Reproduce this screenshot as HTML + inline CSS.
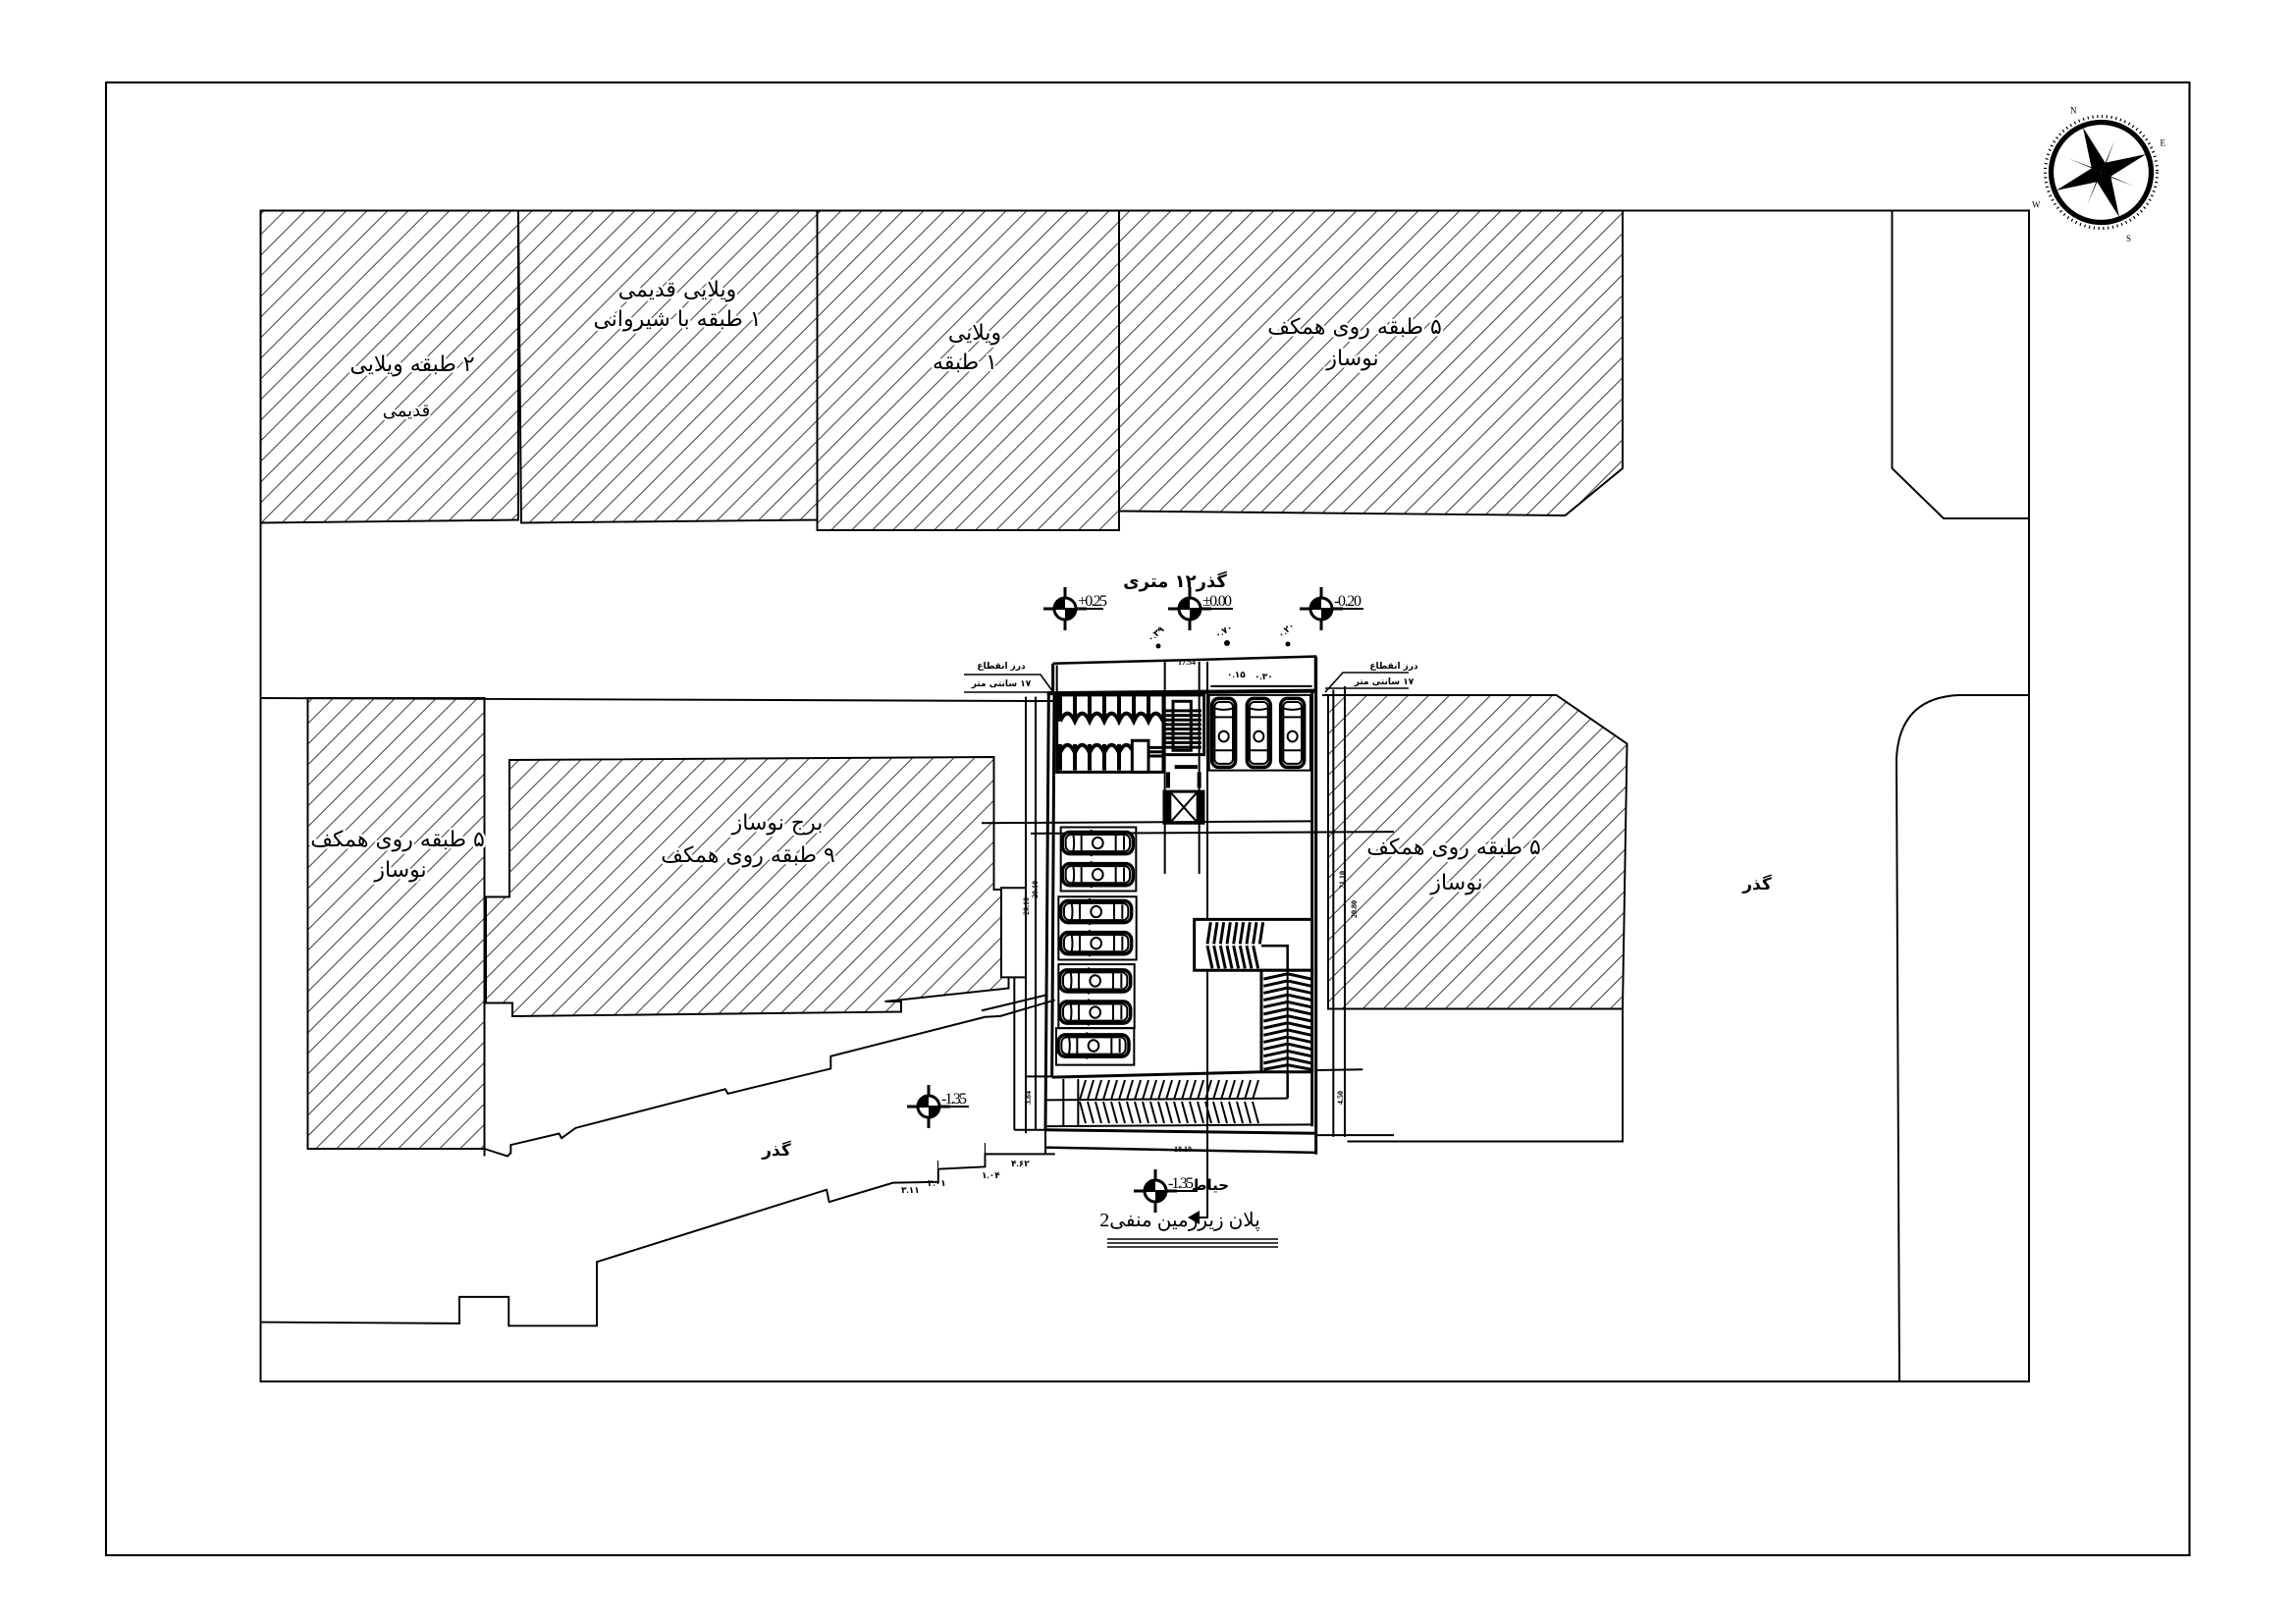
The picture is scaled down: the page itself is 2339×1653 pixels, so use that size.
<!DOCTYPE html>
<html><head><meta charset="utf-8"><style>
html,body{margin:0;padding:0;background:#fff}
svg{display:block}
text{font-family:"Liberation Serif","DejaVu Sans",sans-serif;fill:#000}
.t{font-family:"DejaVu Sans","Noto Sans CJK SC",sans-serif;paint-order:stroke;stroke:#fff;stroke-width:5px;stroke-linejoin:round}
.b{font-weight:bold;font-family:"DejaVu Sans",sans-serif}
</style></head><body>
<svg width="2339" height="1653" viewBox="0 0 2339 1653" xmlns="http://www.w3.org/2000/svg">
<defs>
<pattern id="h" patternUnits="userSpaceOnUse" width="9.9" height="9.9" patternTransform="rotate(45)">
<line x1="0" y1="0" x2="0" y2="9.9" stroke="#000" stroke-width="1"/>
</pattern>
<g id="car">
<rect x="-108" y="-31" width="216" height="62" rx="22" fill="#fff" stroke="#000" stroke-width="3.5" vector-effect="non-scaling-stroke"/>
<rect x="-98" y="-24" width="196" height="48" rx="16" fill="none" stroke="#000" stroke-width="2" vector-effect="non-scaling-stroke"/>
<path d="M-50,-24 L-50,24 M55,-24 L55,24 M-75,-24 Q-70,0 -75,24 M80,-20 L80,20 M-20,-31 L-20,-38 M-20,31 L-20,38" stroke="#000" stroke-width="2" fill="none" vector-effect="non-scaling-stroke"/>
<ellipse cx="0" cy="0" rx="16" ry="16" fill="#fff" stroke="#000" stroke-width="2" vector-effect="non-scaling-stroke"/>
</g>
<g id="vcar">
<rect x="-36" y="-98" width="72" height="196" rx="20" fill="#fff" stroke="#000" stroke-width="3.5" vector-effect="non-scaling-stroke"/>
<rect x="-28" y="-88" width="56" height="176" rx="14" fill="none" stroke="#000" stroke-width="2" vector-effect="non-scaling-stroke"/>
<path d="M-28,-45 L28,-45 M-28,50 L28,50 M-28,-70 Q0,-62 28,-70" stroke="#000" stroke-width="2" fill="none" vector-effect="non-scaling-stroke"/>
<ellipse cx="0" cy="10" rx="15" ry="15" fill="#fff" stroke="#000" stroke-width="2" vector-effect="non-scaling-stroke"/>
</g>
<g id="elev">
<line x1="-22" y1="0" x2="22" y2="0" stroke="#000" stroke-width="3"/>
<line x1="0" y1="-22" x2="0" y2="22" stroke="#000" stroke-width="3"/>
<circle r="11" fill="#fff" stroke="#000" stroke-width="3"/>
<path d="M0,0 L0,-11 A11,11 0 0 0 -11,0 Z M0,0 L0,11 A11,11 0 0 0 11,0 Z" fill="#000"/>
</g>
</defs>

<g transform="scale(1.5)" stroke="#000" fill="none" stroke-width="1.3">
<rect x="72" y="56" width="1415" height="1000" stroke-width="1.4"/>
<rect x="177" y="143" width="1201" height="795" stroke-width="1.3"/>

<polygon points="177,143 352,143 352,353 177,355" fill="url(#h)"/>
<polygon points="352,143 555,143 555,353 354,355" fill="url(#h)"/>
<polygon points="555,143 760,143 760,360 555,360" fill="url(#h)"/>
<polygon points="760,143 1102,143 1102,318 1063,350 760,347" fill="url(#h)"/>

<polyline points="1285,143 1285,318 1320,352 1378,352"/>
<path d="M1378,472 L1330,472 Q1290,474 1288,515 L1290,938"/>

<polyline points="177,474 700,476 715,476"/>
<polyline points="898,472 1057,472"/>

<polygon points="902,472 1057,472 1105,505 1102,685 902,685" fill="url(#h)"/>
<polyline points="915,685 1102,685 1102,775 915,775"/>

<rect x="209" y="474" width="120" height="306" fill="url(#h)"/>
<line x1="329" y1="474" x2="329" y2="785"/>
<polygon points="346,516 675,514 675,604 685,604 685,671 601,680 612,680 612,687 348,690 348,681 330,681 330,609 346,609" fill="url(#h)"/>

<polyline points="329,780 344.6,785 346.9,782.9 346.9,777.4 379.7,769.7 381.4,772.8 390.9,765.9 492.6,739.5 494.3,742.6 564.2,725.6 564.2,717.2 669,690.5 679.5,689.9 716.5,679"/>
<polyline points="177,897.7 312,898.6 312,880.6 345.5,880.6 345.5,900.2 405.4,900.2 405.4,856.8 561.4,807.8 563.1,816.1 606.5,803.1 637.2,802.5 637.2,793.8 669,792.2 669,783.6 716.5,783.6"/>
<path d="M669,783.6 L669,776 M637,793 L637,788" stroke-width="0.8"/>

<g transform="translate(1427,117)">
<circle r="34" stroke-width="3.5"/>
<circle r="38" stroke-width="2" stroke-dasharray="0.8,2.4"/>
<g transform="rotate(-22)" fill="#000" stroke="none">
<polygon points="0,-33 5,-5 0,0 -5,-5"/>
<polygon points="0,33 5,5 0,0 -5,5"/>
<polygon points="-33,0 -5,5 0,0 -5,-5"/>
<polygon points="33,0 5,5 0,0 5,-5"/>
<polygon points="0,0 17,-17 4,-3" /><polygon points="0,0 -17,17 -4,3"/>
<polygon points="0,0 -17,-17 -3,-4"/><polygon points="0,0 17,17 3,4"/>
</g>
<g stroke="none" fill="#000" font-size="6" font-family="Liberation Sans">
<text x="-21" y="-40">N</text><text x="40" y="-18">E</text><text x="17" y="47">S</text><text x="-47" y="24">W</text>
</g>
</g>
</g>

<g font-size="22" text-anchor="middle" direction="rtl">
<text class="t" x="420" y="378">۲ طبقه ویلایی</text>
<text class="t" x="414" y="424" font-size="18">قدیمی</text>
<text class="t" x="690" y="302">ویلایی قدیمی</text>
<text class="t" x="690" y="332">۱ طبقه با شیروانی</text>
<text class="t" x="993" y="346">ویلایی</text>
<text class="t" x="983" y="376">۱ طبقه</text>
<text class="t" x="1380" y="340">۵ طبقه روی همکف</text>
<text class="t" x="1378" y="372">نوساز</text>
<text class="t" x="792" y="845">برج نوساز</text>
<text class="t" x="762" y="878">۹ طبقه روی همکف</text>
<text class="t" x="405" y="862">۵ طبقه روی همکف</text>
<text class="t" x="408" y="893">نوساز</text>
<text class="t" x="1481" y="870">۵ طبقه روی همکف</text>
<text class="t" x="1484" y="906">نوساز</text>
</g>
<g text-anchor="middle" direction="rtl">
<text x="1790" y="906" font-size="17" class="b">گذر</text>
<text x="791" y="1177" font-size="17" class="b">گذر</text>
<text x="1197" y="598" font-size="18" class="b">گذر۱۲ متری</text>
<text x="1233" y="1212" font-size="15" class="b">حیاط</text>
<text x="1020" y="681" font-size="9" class="b">درز انقطاع</text>
<text x="1020" y="699" font-size="9" class="b">۱۷ سانتی متر</text>
<text x="1420" y="681" font-size="9" class="b">درز انقطاع</text>
<text x="1410" y="697" font-size="9" class="b">۱۷ سانتی متر</text>
<text x="1037" y="947" font-size="10" class="b" transform="rotate(-90 1037 947)">پله فرار</text>
</g>

<g>
<use href="#elev" x="1085" y="620"/><line x1="1075" y1="620" x2="1124" y2="620" stroke="#000" stroke-width="2"/><text x="1098" y="617" font-family="Liberation Sans" font-size="16" textLength="30">+0.25</text>
<use href="#elev" x="1212" y="620"/><line x1="1200" y1="620" x2="1256" y2="620" stroke="#000" stroke-width="2"/><text x="1225" y="617" font-family="Liberation Sans" font-size="16" textLength="30">±0.00</text>
<use href="#elev" x="1346" y="620"/><line x1="1335" y1="620" x2="1389" y2="620" stroke="#000" stroke-width="2"/><text x="1359" y="617" font-family="Liberation Sans" font-size="16" textLength="28">-0.20</text>
<use href="#elev" x="946" y="1127"/><line x1="935" y1="1127" x2="987" y2="1127" stroke="#000" stroke-width="2"/><text x="959" y="1124" font-family="Liberation Sans" font-size="16" textLength="26">-1.35</text>
<use href="#elev" x="1177" y="1213"/><line x1="1165" y1="1213" x2="1220" y2="1213" stroke="#000" stroke-width="2"/><text x="1190" y="1210" font-family="Liberation Sans" font-size="16" textLength="26">-1.35</text>
</g>
<g font-size="9" font-weight="bold" font-family="DejaVu Sans,sans-serif">
<text x="1172" y="654" transform="rotate(-40 1172 654)">۰.۳۹</text><circle cx="1180" cy="658" r="2.5"/>
<text x="1240" y="650" transform="rotate(-30 1240 650)">۰.۷۰</text><circle cx="1250" cy="655" r="3"/>
<text x="1305" y="650" transform="rotate(-40 1305 650)">۰.۲۰</text><circle cx="1312" cy="656" r="2.5"/>
<text x="1250" y="690">۰.۱۵</text><text x="1278" y="692">۰.۳۰</text>
<text x="1030" y="1188">۴.۶۲</text>
<text x="1000" y="1200">۱.۰۴</text>
<text x="945" y="1208">۳.۰۱</text>
<text x="918" y="1215">۳.۱۱</text>
</g>

<text x="1202" y="1249" font-size="20" text-anchor="middle" direction="rtl" font-family="DejaVu Sans,sans-serif">پلان زیرزمین منفی2</text>
<g stroke="#000" stroke-width="1.6"><line x1="1128" y1="1262" x2="1302" y2="1262"/><line x1="1128" y1="1266" x2="1302" y2="1266"/><line x1="1128" y1="1270" x2="1302" y2="1270"/></g>
<polyline points="1230,1183 1230,1240 1215,1240" fill="none" stroke="#000" stroke-width="2"/>
<polygon points="1210,1240 1222,1233 1222,1247" fill="#000"/>

<g stroke="#000" stroke-width="1.6" fill="none">
<polyline points="982,687 1060,687 1073,705"/>
<line x1="982" y1="705" x2="1073" y2="705"/>
<polyline points="1435,685 1368,685 1350,705"/>
<line x1="1350" y1="701" x2="1435" y2="701"/>
</g>

<g transform="translate(1000,640) scale(0.33333,0.35714)" stroke="#000" fill="none" stroke-width="2" >
<polyline points="218,100 640,90 1020,80 1020,180" vector-effect="non-scaling-stroke" stroke-width="2.5"/>
<line x1="218" y1="100" x2="218" y2="185" vector-effect="non-scaling-stroke" stroke-width="3"/>
<line x1="230" y1="105" x2="230" y2="185" vector-effect="non-scaling-stroke"/>
<line x1="560" y1="95" x2="560" y2="700" vector-effect="non-scaling-stroke"/>
<line x1="665" y1="95" x2="665" y2="700" vector-effect="non-scaling-stroke"/>
<line x1="690" y1="95" x2="690" y2="1568" vector-effect="non-scaling-stroke"/>
<line x1="700" y1="165" x2="1010" y2="165" vector-effect="non-scaling-stroke"/>
<line x1="200" y1="185" x2="1022" y2="178" vector-effect="non-scaling-stroke" stroke-width="4"/>
<line x1="205" y1="185" x2="195" y2="1430" vector-effect="non-scaling-stroke" stroke-width="3"/>
<line x1="222" y1="185" x2="215" y2="1280" vector-effect="non-scaling-stroke" stroke-width="3"/>
<line x1="1010" y1="180" x2="1010" y2="1420" vector-effect="non-scaling-stroke" stroke-width="3"/>
<line x1="1022" y1="80" x2="1022" y2="1500" vector-effect="non-scaling-stroke" stroke-width="3"/>
<line x1="195" y1="1430" x2="1022" y2="1440" vector-effect="non-scaling-stroke" stroke-width="3"/>
<line x1="195" y1="1480" x2="1022" y2="1495" vector-effect="non-scaling-stroke" stroke-width="2.5"/>
<line x1="195" y1="1280" x2="195" y2="1500" vector-effect="non-scaling-stroke" stroke-width="2"/>
<line x1="215" y1="1280" x2="855" y2="1265" vector-effect="non-scaling-stroke" stroke-width="3"/>
<line x1="200" y1="1345" x2="935" y2="1340" vector-effect="non-scaling-stroke"/>
<line x1="200" y1="1420" x2="1010" y2="1415" vector-effect="non-scaling-stroke"/>
<line x1="250" y1="1285" x2="250" y2="1420" vector-effect="non-scaling-stroke"/>
<line x1="295" y1="1285" x2="295" y2="1420" vector-effect="non-scaling-stroke"/>
<line x1="0" y1="555" x2="1010" y2="550" vector-effect="non-scaling-stroke"/>
<line x1="150" y1="585" x2="1260" y2="580" vector-effect="non-scaling-stroke"/>
<line x1="100" y1="740" x2="100" y2="1430" vector-effect="non-scaling-stroke"/>
<line x1="135" y1="195" x2="135" y2="1440" vector-effect="non-scaling-stroke"/>
<line x1="165" y1="195" x2="165" y2="1430" vector-effect="non-scaling-stroke"/>
<line x1="100" y1="1430" x2="200" y2="1430" vector-effect="non-scaling-stroke"/>
<line x1="135" y1="1278" x2="215" y2="1278" vector-effect="non-scaling-stroke"/>
<line x1="1075" y1="175" x2="1075" y2="1450" vector-effect="non-scaling-stroke"/>
<line x1="1110" y1="165" x2="1110" y2="1450" vector-effect="non-scaling-stroke"/>
<line x1="1022" y1="1260" x2="1165" y2="1258" vector-effect="non-scaling-stroke"/>
<line x1="1022" y1="1445" x2="1260" y2="1445" vector-effect="non-scaling-stroke"/>
<line x1="0" y1="1090" x2="200" y2="1045" vector-effect="non-scaling-stroke"/>
<rect x="60" y="740" width="75" height="255" fill="#fff" vector-effect="non-scaling-stroke"/>
<rect x="230" y="190" width="325" height="220" vector-effect="non-scaling-stroke" stroke-width="3"/>
<path d="M240,190 V265 M285,190 V265 M330,190 V265 M375,190 V265 M420,190 V265 M465,190 V265 M510,190 V265
M240,265 q22,-45 45,0 q22,-45 45,0 q22,-45 45,0 q22,-45 45,0 q22,-45 45,0 q22,-45 45,0 q22,-45 45,0
M240,330 V405 M285,330 V405 M330,330 V405 M375,330 V405 M420,330 V405
M240,355 q22,-45 45,0 q22,-45 45,0 q22,-45 45,0 q22,-45 45,0 q22,-45 45,0" vector-effect="non-scaling-stroke" stroke-width="4"/>
<rect x="460" y="320" width="50" height="90" fill="#fff" vector-effect="non-scaling-stroke" stroke-width="3"/>
<rect x="558" y="190" width="122" height="170" vector-effect="non-scaling-stroke" stroke-width="3"/>
<rect x="585" y="208" width="55" height="140" vector-effect="non-scaling-stroke" stroke-width="3"/>
<path d="M562,235 H672 M562,248 H672 M562,261 H672 M562,274 H672 M562,287 H672 M562,300 H672 M562,313 H672 M562,326 H672 M562,339 H672 M510,340 H560 M510,352 H560 M510,364 H560" vector-effect="non-scaling-stroke" stroke-width="3"/>
<rect x="558" y="465" width="120" height="90" vector-effect="non-scaling-stroke" stroke-width="3"/>
<rect x="558" y="465" width="22" height="90" fill="#000" stroke="none"/>
<rect x="656" y="465" width="22" height="90" fill="#000" stroke="none"/>
<path d="M580,470 L656,550 M656,470 L580,550" vector-effect="non-scaling-stroke" stroke-width="2"/>
<path d="M590,395 H660 M570,410 V455 M665,410 V455" vector-effect="non-scaling-stroke" stroke-width="4"/>
<rect x="695" y="190" width="310" height="215" vector-effect="non-scaling-stroke" stroke-width="2"/>
<rect x="242" y="567" width="230" height="182" vector-effect="non-scaling-stroke"/>
<rect x="235" y="765" width="238" height="180" vector-effect="non-scaling-stroke"/>
<rect x="235" y="958" width="232" height="182" vector-effect="non-scaling-stroke"/>
<rect x="228" y="1140" width="238" height="105" vector-effect="non-scaling-stroke"/>
<rect x="650" y="830" width="360" height="145" fill="#fff" vector-effect="non-scaling-stroke" stroke-width="3"/>
<path d="M700,838 L690,900 M720,838 L710,900 M740,838 L730,900 M760,838 L750,900 M780,838 L770,900 M800,838 L790,900 M820,838 L810,900 M840,838 L830,900 M860,838 L850,900
M690,905 L705,970 M710,905 L725,970 M730,905 L745,970 M750,905 L765,970 M770,905 L785,970 M790,905 L805,970 M810,905 L825,970 M830,905 L845,970" vector-effect="non-scaling-stroke" stroke-width="3"/>
<polyline points="855,905 935,905 935,1340" vector-effect="non-scaling-stroke" stroke-width="2.5"/>
<rect x="855" y="975" width="155" height="290" fill="#fff" vector-effect="non-scaling-stroke" stroke-width="3"/>
<line x1="935" y1="975" x2="935" y2="1265" vector-effect="non-scaling-stroke"/>
<path d="M862,1000 L935,985 L1008,1000 M862,1020 L935,1005 L1008,1020 M862,1040 L935,1025 L1008,1040 M862,1060 L935,1045 L1008,1060 M862,1080 L935,1065 L1008,1080 M862,1100 L935,1085 L1008,1100 M862,1120 L935,1105 L1008,1120 M862,1140 L935,1125 L1008,1140 M862,1160 L935,1145 L1008,1160 M862,1180 L935,1165 L1008,1180 M862,1200 L935,1185 L1008,1200 M862,1220 L935,1205 L1008,1220 M862,1240 L935,1225 L1008,1240 M862,1258 L935,1245 L1008,1258" vector-effect="non-scaling-stroke" stroke-width="3"/>
<use href="#car" x="355" y="612"/>
<use href="#car" x="355" y="702"/>
<use href="#car" x="350" y="808"/>
<use href="#car" x="350" y="898"/>
<use href="#car" x="347" y="1005"/>
<use href="#car" x="347" y="1095"/>
<use href="#car" x="342" y="1190"/>
<use href="#vcar" x="740" y="298"/>
<use href="#vcar" x="847" y="298"/>
<use href="#vcar" x="950" y="298"/>
</g>

<g stroke="#000" stroke-width="2">
<path d="M1100,1120 L1106,1100 M1108,1120 L1114,1100 M1116,1120 L1122,1100 M1124,1120 L1130,1100 M1132,1120 L1138,1100 M1140,1120 L1146,1100 M1148,1120 L1154,1100 M1156,1120 L1162,1100 M1164,1120 L1170,1100 M1172,1120 L1178,1100 M1180,1120 L1186,1100 M1188,1120 L1194,1100 M1196,1120 L1202,1100 M1204,1120 L1210,1100 M1212,1120 L1218,1100 M1220,1120 L1226,1100 M1228,1120 L1234,1100 M1236,1120 L1242,1100 M1244,1120 L1250,1100 M1252,1120 L1258,1100 M1260,1120 L1266,1100 M1268,1120 L1274,1100 M1276,1120 L1282,1100"/>
<path d="M1100,1122 L1106,1144 M1108,1122 L1114,1144 M1116,1122 L1122,1144 M1124,1122 L1130,1144 M1132,1122 L1138,1144 M1140,1122 L1146,1144 M1148,1122 L1154,1144 M1156,1122 L1162,1144 M1164,1122 L1170,1144 M1172,1122 L1178,1144 M1180,1122 L1186,1144 M1188,1122 L1194,1144 M1196,1122 L1202,1144 M1204,1122 L1210,1144 M1212,1122 L1218,1144 M1220,1122 L1226,1144 M1228,1122 L1234,1144 M1236,1122 L1242,1144 M1244,1122 L1250,1144 M1252,1122 L1258,1144 M1260,1122 L1266,1144 M1268,1122 L1274,1144 M1276,1122 L1282,1144"/>
</g>
<g font-size="8" font-weight="bold" font-family="Liberation Sans,sans-serif">
<text x="1196" y="1173">18.10</text>
<text x="1200" y="677">17.54</text>
<text x="1057" y="915" transform="rotate(-90 1057 915)">20.10</text>
<text x="1048" y="932" transform="rotate(-90 1048 932)">20.10</text>
<text x="1370" y="905" transform="rotate(-90 1370 905)">21.10</text>
<text x="1382" y="935" transform="rotate(-90 1382 935)">20.80</text>
<text x="1050" y="1125" transform="rotate(-90 1050 1125)">3.84</text>
<text x="1368" y="1125" transform="rotate(-90 1368 1125)">4.50</text>
</g>
</svg>
</body></html>
